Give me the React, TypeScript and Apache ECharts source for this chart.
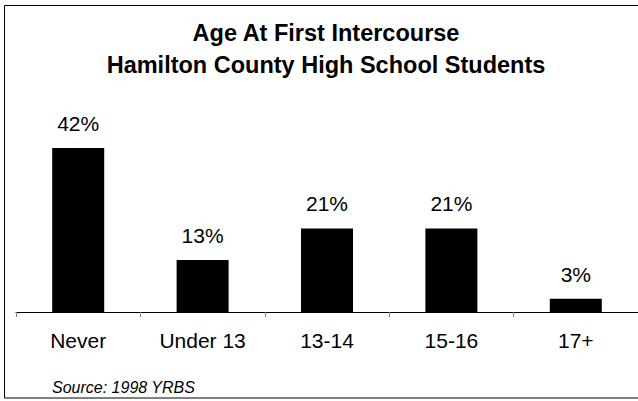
import React, { useEffect, useRef } from "react";
import * as echarts from "echarts";

const categories = ["Never", "Under 13", "13-14", "15-16", "17+"];
const percentages = [42, 13.3, 21.4, 21.4, 3.4];
const titleLines = ["Age At First Intercourse", "Hamilton County High School Students"];
const sourceNote = "Source: 1998 YRBS";

const FONT = "'Liberation Sans', Arial, Helvetica, sans-serif";

export default function App() {
  const ref = useRef<HTMLDivElement>(null);
  useEffect(() => {
    if (!ref.current) return;
    const chart = echarts.init(ref.current, undefined, { renderer: "svg" });
    chart.setOption({
      animation: false,
      backgroundColor: "#ffffff",
      title: {
        text: titleLines.join("\n"),
        left: 326,
        top: 17,
        textAlign: "center",
        padding: 0,
        textStyle: {
          fontFamily: FONT,
          fontSize: 23.5,
          fontWeight: "bold",
          color: "#000",
          lineHeight: 32,
        },
      },
      grid: { left: 16, right: -2, top: 116.8, bottom: 89, containLabel: false },
      xAxis: {
        type: "category",
        data: categories,
        axisLine: { show: true, lineStyle: { color: "#000", width: 1 } },
        axisTick: {
          show: true,
          alignWithLabel: false,
          length: 5,
          lineStyle: { color: "#808080", width: 1 },
        },
        axisLabel: {
          fontFamily: FONT,
          fontSize: 21,
          color: "#000",
          margin: 18,
        },
      },
      yAxis: {
        type: "value",
        min: 0,
        max: 50,
        show: false,
        splitLine: { show: false },
      },
      series: [
        {
          type: "bar",
          data: percentages,
          barWidth: 52,
          itemStyle: { color: "#000" },
          label: {
            show: true,
            position: "top",
            distance: 14,
            fontFamily: FONT,
            fontSize: 21,
            color: "#000",
            formatter: (p: any) => Math.round(p.value) + "%",
          },
        },
      ],
      graphic: [
        {
          type: "rect",
          shape: { x: 4.5, y: 5.5, width: 650, height: 392.5 },
          style: { fill: "none", stroke: "#000", lineWidth: 1 },
          silent: true,
        },
        {
          type: "text",
          x: 52,
          y: 387,
          style: {
            text: sourceNote,
            fontFamily: FONT,
            fontSize: 16,
            fontStyle: "italic",
            fill: "#000",
            verticalAlign: "middle",
            align: "left",
          },
        },
      ],
    });
    return () => chart.dispose();
  }, []);
  return (
    <div
      ref={ref}
      style={{ position: "fixed", left: 0, top: 0, width: 638, height: 401 }}
    />
  );
}
